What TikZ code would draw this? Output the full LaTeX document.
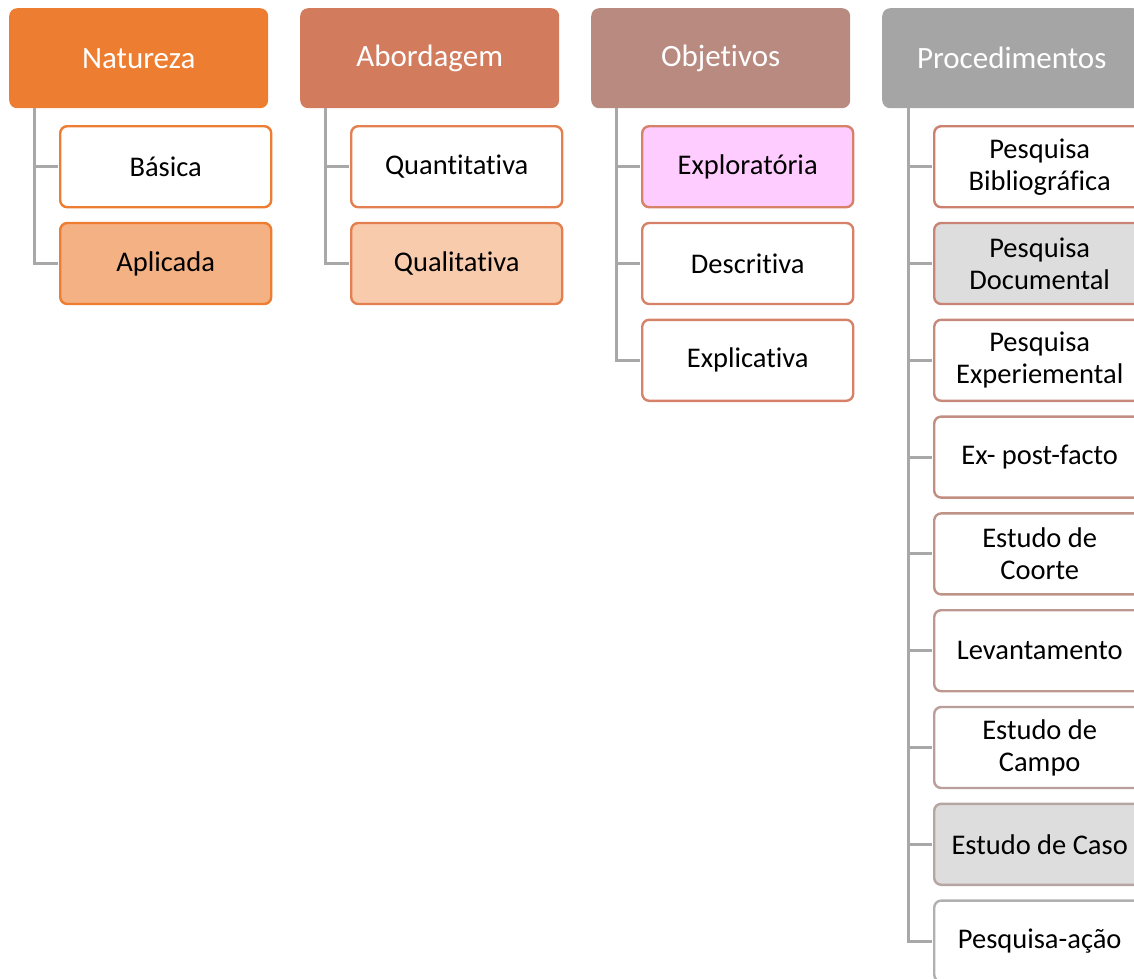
\documentclass[tikz,border=0pt]{standalone}
\usepackage{fontspec}
\setmainfont{Carlito}[RawFeature={-liga;-clig;-calt;-dlig;-rlig}]
\definecolor{natHead}{RGB}{237,125,49}
\definecolor{aboHead}{RGB}{210,123,93}
\definecolor{objHead}{RGB}{185,138,128}
\definecolor{proHead}{RGB}{165,165,165}
\definecolor{natLine}{RGB}{237,125,49}
\definecolor{aboLine}{RGB}{228,128,80}
\definecolor{objLine}{RGB}{214,130,105}
\definecolor{linkgray}{RGB}{168,168,168}
\definecolor{fillAplicada}{RGB}{244,177,131}
\definecolor{fillQualitativa}{RGB}{248,203,173}
\definecolor{fillExplor}{RGB}{255,204,255}
\definecolor{fillGray}{RGB}{221,221,221}
\definecolor{pl0}{RGB}{204,128,110}
\definecolor{pl1}{RGB}{201,132,117}
\definecolor{pl2}{RGB}{198,137,123}
\definecolor{pl3}{RGB}{195,142,130}
\definecolor{pl4}{RGB}{192,147,137}
\definecolor{pl5}{RGB}{189,152,145}
\definecolor{pl6}{RGB}{186,158,153}
\definecolor{pl7}{RGB}{182,165,162}
\definecolor{pl8}{RGB}{176,176,176}
\begin{document}
\begin{tikzpicture}[x=1pt,y=-1pt,
  head/.style={fill=#1, rounded corners=8pt, minimum width=259pt,
    minimum height=100pt, anchor=north west, text=white, inner sep=0pt,
    font=\fontsize{31}{36}\selectfont},
  item/.style={draw=#1, fill=white, line width=2.4pt, rounded corners=7pt,
    minimum width=211pt, minimum height=81pt, anchor=north west,
    align=center, inner sep=0pt, font=\fontsize{28.5}{32}\selectfont},
  link/.style={draw=linkgray, line width=3pt, shorten >=1.2pt}
]
\useasboundingbox (0,0) rectangle (1134,978);
\clip (0,0) rectangle (1134,978);

% Category headers
\node[head=natHead] (nat) at (9,8)   {Natureza};
\node[head=aboHead] (abo) at (300,8) {Abordagem};
\node[head=objHead] (obj) at (591,8) {Objetivos};
\node[head=proHead] (pro) at (882,8) {Procedimentos};

% Natureza
\node[item=natLine] (bas) at (59,125) {Básica};
\node[item=natLine, fill=fillAplicada] (apl) at (59,221.8) {Aplicada};

% Abordagem
\node[item=aboLine] (qua) at (350,125) {Quantitativa};
\node[item=aboLine, fill=fillQualitativa] (qul) at (350,221.8) {Qualitativa};

% Objetivos
\node[item=objLine, fill=fillExplor] (exl) at (641,125) {Exploratória};
\node[item=objLine] (des) at (641,221.8) {Descritiva};
\node[item=objLine] (exp) at (641,318.6) {Explicativa};

% Procedimentos
\node[item=pl0] (p0) at (933,125)   {Pesquisa\\Bibliográfica};
\node[item=pl1, fill=fillGray] (p1) at (933,221.8) {Pesquisa\\Documental};
\node[item=pl2] (p2) at (933,318.6) {Pesquisa\\Experiemental};
\node[item=pl3] (p3) at (933,415.4) {Ex- post-facto};
\node[item=pl4] (p4) at (933,512.2) {Estudo de\\Coorte};
\node[item=pl5] (p5) at (933,609)   {Levantamento};
\node[item=pl6] (p6) at (933,705.8) {Estudo de\\Campo};
\node[item=pl7, fill=fillGray] (p7) at (933,802.6) {Estudo de Caso};
\node[item=pl8] (p8) at (933,899.4) {Pesquisa-ação};

% Tree connectors
\foreach \c in {bas,apl}
  \draw[link] ([xshift=25pt]nat.south west) |- (\c.west);
\foreach \c in {qua,qul}
  \draw[link] ([xshift=25pt]abo.south west) |- (\c.west);
\foreach \c in {exl,des,exp}
  \draw[link] ([xshift=25pt]obj.south west) |- (\c.west);
\foreach \c in {p0,p1,p2,p3,p4,p5,p6,p7,p8}
  \draw[link] ([xshift=26pt]pro.south west) |- (\c.west);
\end{tikzpicture}
\end{document}
